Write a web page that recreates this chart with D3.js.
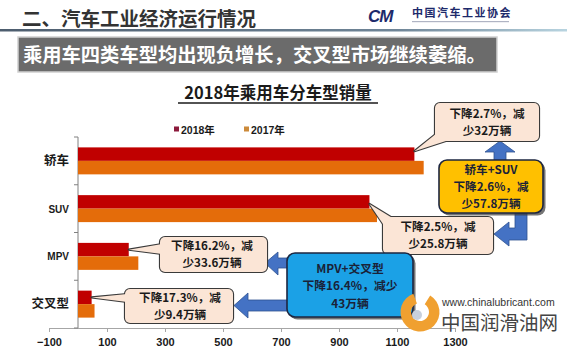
<!DOCTYPE html>
<html><head><meta charset="utf-8">
<script src="https://cdn.jsdelivr.net/npm/d3@7"></script>
<style>
body{margin:0;background:#fff;}
svg{display:block;}
</style></head>
<body>
<script>
const categories = ["轿车", "SUV", "MPV", "交叉型"];
const seriesNames = ["2018年", "2017年"];
const sales2018 = [1160, 1005, 175, 47];
const sales2017 = [1192, 1031, 208, 57];
const xTicks = [-100, 100, 300, 500, 700, 900, 1100, 1300];
const headerTitle = "二、汽车工业经济运行情况";
const bannerText = "乘用车四类车型均出现负增长，交叉型市场继续萎缩。";
const chartTitle = "2018年乘用车分车型销量";
const calloutTexts = [
  ["下降2.7%，减", "少32万辆"],
  ["下降2.5%，减", "少25.8万辆"],
  ["下降16.2%，减", "少33.6万辆"],
  ["下降17.3%，减", "少9.4万辆"]
];
const sumSedanSuv = ["轿车+SUV", "下降2.6%，减", "少57.8万辆"];
const sumMpvCross = ["MPV+交叉型", "下降16.4%，减少", "43万辆"];

const W = 567, H = 355;
const CJK = "'Noto Sans CJK SC','Liberation Sans',sans-serif";
const LAT = "'Liberation Sans','Noto Sans CJK SC',sans-serif";
const svg = d3.select("body").append("svg").attr("width", W).attr("height", H);
const defs = svg.append("defs");

// header
const lg = defs.append("linearGradient").attr("id", "hl");
lg.append("stop").attr("offset", "0").attr("stop-color", "#4d5d6e");
lg.append("stop").attr("offset", "0.7").attr("stop-color", "#6f8597");
lg.append("stop").attr("offset", "1").attr("stop-color", "#b8d4e0");
svg.append("rect").attr("x", 0).attr("y", 29).attr("width", W).attr("height", 2.5).attr("fill", "url(#hl)");
svg.append("text").attr("x", 22).attr("y", 26).attr("font-family", CJK).attr("font-weight", "bold")
  .attr("font-size", 19.5).attr("fill", "#333").text(headerTitle);
// logo
svg.append("text").attr("x", 368).attr("y", 22).attr("font-family", LAT).attr("font-weight", "bold")
  .attr("font-style", "italic").attr("font-size", 17).attr("fill", "#1d2a6b").attr("letter-spacing", -1).text("CM");
svg.append("text").attr("x", 412).attr("y", 17).attr("font-family", CJK).attr("font-weight", "bold")
  .attr("font-size", 11).attr("fill", "#1d2a6b").attr("letter-spacing", 1.5).text("中国汽车工业协会");
svg.append("rect").attr("x", 412).attr("y", 21).attr("width", 97).attr("height", 1.2).attr("fill", "#b0b4c4");

// banner
svg.append("rect").attr("x", 18).attr("y", 37).attr("width", 479).attr("height", 35)
  .attr("fill", "#6b6b6b").attr("stroke", "#d0d0d0").attr("stroke-width", 1.5);
svg.append("text").attr("x", 23).attr("y", 61.5).attr("font-family", CJK).attr("font-weight", "bold")
  .attr("font-size", 19.3).attr("fill", "#fff").text(bannerText);

// chart title
svg.append("text").attr("x", 278).attr("y", 99).attr("text-anchor", "middle")
  .attr("font-family", CJK).attr("font-weight", "bold").attr("font-size", 16.5).attr("fill", "#1a1a1a").text(chartTitle);
svg.append("line").attr("x1", 178).attr("x2", 378).attr("y1", 103).attr("y2", 103).attr("stroke", "#1a1a1a").attr("stroke-width", 1.3);

// scales
const x = d3.scaleLinear().domain([-100, 1300]).range([49, 455]);
const y = d3.scaleBand().domain(categories).range([137, 328]).paddingInner(0.435).paddingOuter(0.2175);
const ys = d3.scaleBand().domain(seriesNames).range([0, y.bandwidth()]);
const colors = {"2018年": "#c00000", "2017年": "#e46c0a"};
const legendColors = {"2018年": "#8c1a3c", "2017年": "#cc8a3a"};

// axes
const gx = svg.append("g").attr("transform", "translate(0,328)")
  .call(d3.axisBottom(x).tickValues(xTicks).tickSize(4).tickPadding(6).tickFormat(d => d < 0 ? "\u2212" + Math.abs(d) : d));
gx.select(".domain").attr("stroke", "#a6a6a6");
gx.selectAll(".tick line").attr("stroke", "#a6a6a6");
gx.selectAll(".tick text").attr("font-family", LAT).attr("font-weight", "bold").attr("font-size", 11).attr("fill", "#1a1a1a");

const gy = svg.append("g").attr("transform", `translate(${x(0)},0)`);
gy.append("line").attr("y1", 137).attr("y2", 328).attr("stroke", "#808080");
const bounds = categories.map(c => y(c) - y.step() * y.paddingInner() / 2).concat([328]);
gy.selectAll(".yt").data(bounds).enter().append("line").attr("x1", -4).attr("x2", 0)
  .attr("y1", d => d).attr("y2", d => d).attr("stroke", "#808080");
svg.selectAll(".ylab").data(categories).enter().append("text")
  .attr("x", 69).attr("y", c => y(c) + y.bandwidth() / 2 + 4).attr("text-anchor", "end")
  .attr("font-family", c => /[A-Z]/.test(c) ? LAT : CJK).attr("font-weight", "bold")
  .attr("font-size", c => /[A-Z]/.test(c) ? 10 : 12.5).attr("fill", "#1a1a1a").text(c => c);

// bars
const data = categories.map((c, i) => ({cat: c, vals: [{s: "2018年", v: sales2018[i]}, {s: "2017年", v: sales2017[i]}]}));
const bg = svg.append("g");
data.forEach(d => {
  bg.selectAll(null).data(d.vals).enter().append("rect")
    .attr("x", x(0)).attr("y", v => y(d.cat) + ys(v.s)).attr("width", v => x(v.v) - x(0))
    .attr("height", ys.bandwidth()).attr("fill", v => colors[v.s]);
});

// legend
const leg = svg.append("g");
seriesNames.forEach((s, i) => {
  const lx = 174 + i * 70;
  leg.append("rect").attr("x", lx).attr("y", 126.5).attr("width", 5).attr("height", 5).attr("fill", legendColors[s]);
  leg.append("text").attr("x", lx + 7).attr("y", 133.5).attr("font-family", LAT).attr("font-weight", "bold")
    .attr("font-size", 10.5).attr("fill", "#1a1a1a").text(s);
});

// blue arrows
const arrowFill = "#4472c4", arrowStroke = "#2f528f";
function poly(pts) { return "M" + pts.map(p => p.join(",")).join("L") + "Z"; }
const ag = svg.append("g");
ag.append("path").attr("d", poly([[494, 162], [494, 152], [485, 152], [500, 141], [515, 152], [506, 152], [506, 162]]))
  .attr("fill", arrowFill).attr("stroke", arrowStroke).attr("stroke-width", 0.8);
ag.append("path").attr("d", poly([[515, 210], [527, 210], [527, 240], [509, 240], [509, 246], [494, 234], [509, 222], [509, 228], [515, 228]]))
  .attr("fill", arrowFill).attr("stroke", arrowStroke).attr("stroke-width", 0.8);
ag.append("path").attr("d", poly([[295, 258], [278, 258], [278, 252], [265, 263], [278, 275], [278, 268], [295, 268]]))
  .attr("fill", arrowFill).attr("stroke", arrowStroke).attr("stroke-width", 0.8);
ag.append("path").attr("d", poly([[295, 300], [248, 300], [248, 293], [234, 305.5], [248, 318], [248, 311], [295, 311]]))
  .attr("fill", arrowFill).attr("stroke", arrowStroke).attr("stroke-width", 0.8);

// callouts
function callout(box, tip, base, lines, cx, ly) {
  const g = svg.append("g");
  const wedge = poly([tip, base[0], base[1]]);
  g.append("rect").attr("x", box[0]).attr("y", box[1]).attr("width", box[2]).attr("height", box[3])
    .attr("rx", 5).attr("fill", "none").attr("stroke", "#3a3a3a").attr("stroke-width", 2.2);
  g.append("path").attr("d", wedge).attr("fill", "none").attr("stroke", "#3a3a3a").attr("stroke-width", 2.2).attr("stroke-linejoin", "round");
  g.append("rect").attr("x", box[0]).attr("y", box[1]).attr("width", box[2]).attr("height", box[3])
    .attr("rx", 5).attr("fill", "#fbe5d6");
  g.append("path").attr("d", wedge).attr("fill", "#fbe5d6");
  lines.forEach((t, i) => g.append("text").attr("x", cx).attr("y", ly[i]).attr("text-anchor", "middle")
    .attr("font-family", CJK).attr("font-weight", "bold").attr("font-size", 11.6).attr("fill", "#1a1a1a").text(t));
}
const b18 = c => x(sales2018[categories.indexOf(c)]);
const yb18 = c => y(c) + ys("2018年") + ys.bandwidth() / 2;
callout([435, 103, 104, 38], [b18("轿车"), yb18("轿车") - 3], [[437, 133], [452, 139]], calloutTexts[0], 487, [117.5, 134.5]);
callout([383, 217, 110, 37], [b18("SUV"), yb18("SUV") + 2], [[394, 219], [385, 227]], calloutTexts[1], 438, [231, 248]);
callout([160, 237, 107, 35], [b18("MPV"), yb18("MPV")], [[162, 244], [162, 254]], calloutTexts[2], 212, [250, 267]);
callout([125, 289, 108, 34], [b18("交叉型"), yb18("交叉型")], [[127, 294], [127, 302]], calloutTexts[3], 180, [302, 319]);

// summary boxes
function sumBox(box, fill, lines, cx, ly, size) {
  const g = svg.append("g");
  g.append("rect").attr("x", box[0] + 2.5).attr("y", box[1] + 2.5).attr("width", box[2]).attr("height", box[3])
    .attr("rx", 8).attr("fill", "#3a3a3a").attr("opacity", 0.7);
  g.append("rect").attr("x", box[0]).attr("y", box[1]).attr("width", box[2]).attr("height", box[3])
    .attr("rx", 8).attr("fill", fill).attr("stroke", "#1d2640").attr("stroke-width", 1.6);
  lines.forEach((t, i) => g.append("text").attr("x", cx).attr("y", ly[i]).attr("text-anchor", "middle")
    .attr("font-family", CJK).attr("font-weight", "bold").attr("font-size", size).attr("fill", "#1a2238").text(t));
}
sumBox([439, 160, 104, 53], "#ffc000", sumSedanSuv, 491, [173.5, 190.5, 207.5], 11.6);
sumBox([287, 253, 126, 64], "#1ba1e6", sumMpvCross, 350, [272.5, 290, 307.5], 11.8);

// watermark
const wm = svg.append("g");
const arc = d3.arc().innerRadius(9).outerRadius(19.5).startAngle(0.55).endAngle(2 * Math.PI - 0.35);
wm.append("path").attr("d", arc()).attr("transform", "translate(420,312)").attr("fill", "#f0a030");
wm.append("circle").attr("cx", 417).attr("cy", 315).attr("r", 5).attr("fill", "#c8d0dc");
wm.append("text").attr("x", 442).attr("y", 306).attr("font-family", LAT).attr("font-size", 10.5).attr("fill", "#333").text("www.chinalubricant.com");
wm.append("text").attr("x", 441).attr("y", 330).attr("font-family", CJK).attr("font-size", 19.5).attr("fill", "#444").text("中国润滑油网");
</script>
</body></html>
